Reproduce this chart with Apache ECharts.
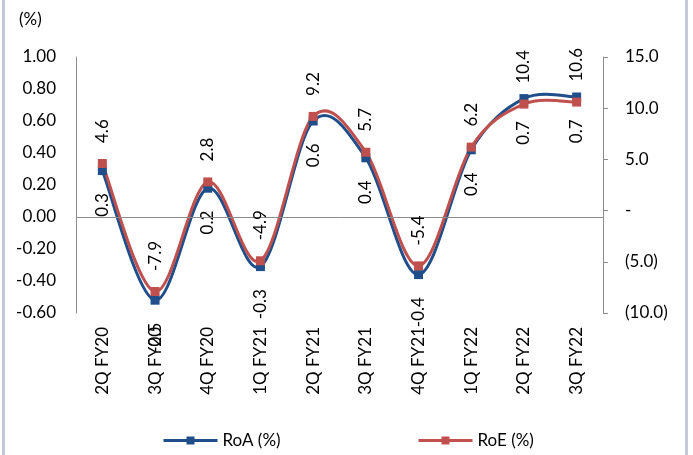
<!DOCTYPE html>
<html>
<head>
<meta charset="utf-8">
<script src="https://cdn.jsdelivr.net/npm/echarts@6/dist/echarts.min.js"></script>
<style>
  html, body { margin: 0; padding: 0; background: #ffffff; }
  #chart { width: 693px; height: 455px; }
</style>
</head>
<body>
<div id="chart"></div>
<script>
// Quarterly return ratios
const quarters = ['2Q FY20', '3Q FY20', '4Q FY20', '1Q FY21', '2Q FY21',
                  '3Q FY21', '4Q FY21', '1Q FY22', '2Q FY22', '3Q FY22'];
const roa = [0.29, -0.52, 0.18, -0.31, 0.60, 0.37, -0.36, 0.42, 0.74, 0.75];
const roaLabels = ['0.3', '-0.5', '0.2', '-0.3', '0.6', '0.4', '-0.4', '0.4', '0.7', '0.7'];
const roe = [4.6, -7.9, 2.8, -4.9, 9.2, 5.7, -5.4, 6.2, 10.4, 10.6];

const FONT = 'Lato, "Open Sans", sans-serif';
const FS = 17;
const BLUE = '#1f4e8a';
const RED = '#c0504d';
const AXIS = '#8c8c8c';

function rightAxisLabel(v) {
  if (Math.abs(v) < 1e-9) return '-';
  if (v < 0) return '(' + Math.abs(v).toFixed(1) + ')';
  return v.toFixed(1);
}

// Smoothed curve segment (cardinal spline in pixel space) between point i and i+1
function curveSegment(values, color) {
  return function (params, api) {
    const i = params.dataIndex;
    const n = values.length;
    if (i >= n - 1) return null;
    const pt = k => api.coord([Math.max(0, Math.min(n - 1, k)), values[Math.max(0, Math.min(n - 1, k))]]);
    const p0 = pt(i - 1), p1 = pt(i), p2 = pt(i + 1), p3 = pt(i + 2);
    const t = 1 / 6;
    return {
      type: 'bezierCurve',
      shape: {
        x1: p1[0], y1: p1[1], x2: p2[0], y2: p2[1],
        cpx1: p1[0] + (p2[0] - p0[0]) * t, cpy1: p1[1] + (p2[1] - p0[1]) * t,
        cpx2: p2[0] - (p3[0] - p1[0]) * t, cpy2: p2[1] - (p3[1] - p1[1]) * t
      },
      style: { stroke: color, lineWidth: 3, fill: null, lineCap: 'round' },
      silent: true
    };
  };
}

const chart = echarts.init(document.getElementById('chart'), null, { renderer: 'canvas' });

const legendText = { fontSize: FS, color: '#000', fontFamily: FONT };

chart.setOption({
  animation: false,
  backgroundColor: '#ffffff',
  textStyle: { fontFamily: FONT },
  graphic: [
    { type: 'rect', left: 2, top: 0, shape: { width: 3, height: 455 }, style: { fill: '#c3cad6' } },
    { type: 'rect', left: 685, top: 0, shape: { width: 3, height: 455 }, style: { fill: '#c3cad6' } },
    { type: 'text', left: 19, top: 11, style: { text: '(%)', fontSize: FS, fontFamily: FONT, fill: '#000' } }
  ],
  grid: { left: 76, right: 90, top: 57, bottom: 142 },
  legend: [
    {
      data: ['RoA (%)'], left: 157, top: 427, itemWidth: 54, itemHeight: 10, itemGap: 0,
      lineStyle: { opacity: 1, width: 3 },
      textStyle: legendText
    },
    {
      data: ['RoE (%)'], left: 412, top: 427, itemWidth: 54, itemHeight: 10, itemGap: 0,
      lineStyle: { opacity: 1, width: 3 },
      textStyle: legendText
    }
  ],
  xAxis: {
    type: 'category',
    data: quarters,
    boundaryGap: true,
    axisLine: { show: false },
    axisTick: { show: false },
    axisLabel: { rotate: 90, margin: 14, fontSize: FS, color: '#000', fontFamily: FONT }
  },
  yAxis: [
    {
      type: 'value', min: -0.6, max: 1.0, interval: 0.2,
      axisLine: { show: true, lineStyle: { color: AXIS, width: 1 } },
      axisTick: { show: false },
      splitLine: { show: false },
      axisLabel: {
        margin: 20, fontSize: FS, color: '#000', fontFamily: FONT,
        formatter: v => v.toFixed(2)
      }
    },
    {
      type: 'value', position: 'right', min: -10, max: 15, interval: 5,
      axisLine: { show: true, lineStyle: { color: AXIS, width: 1 } },
      axisTick: { show: true, length: 5, lineStyle: { color: AXIS } },
      splitLine: { show: false },
      axisLabel: {
        margin: 22, fontSize: FS, color: '#000', fontFamily: FONT,
        formatter: rightAxisLabel
      }
    }
  ],
  series: [
    {
      name: 'RoA curve',
      type: 'custom',
      yAxisIndex: 0,
      z: 2,
      data: roa.map((v, i) => [i, v]),
      renderItem: curveSegment(roa, BLUE),
      markLine: {
        silent: true, symbol: 'none',
        label: { show: false },
        lineStyle: { color: AXIS, width: 1, type: 'solid' },
        data: [{ yAxis: 0 }]
      }
    },
    {
      name: 'RoE curve',
      type: 'custom',
      yAxisIndex: 1,
      z: 3,
      data: roe.map((v, i) => [i, v]),
      renderItem: curveSegment(roe, RED)
    },
    {
      name: 'RoA (%)',
      type: 'line',
      yAxisIndex: 0,
      z: 4,
      data: roa,
      symbol: 'rect',
      symbolSize: 9,
      itemStyle: { color: BLUE },
      lineStyle: { color: BLUE, width: 3, opacity: 0 },
      label: {
        show: true, position: 'bottom', distance: 18, rotate: 90,
        align: 'right', verticalAlign: 'middle',
        fontSize: FS, color: '#000', fontFamily: FONT,
        formatter: p => roaLabels[p.dataIndex]
      }
    },
    {
      name: 'RoE (%)',
      type: 'line',
      yAxisIndex: 1,
      z: 5,
      data: roe,
      symbol: 'rect',
      symbolSize: 9,
      itemStyle: { color: RED },
      lineStyle: { color: RED, width: 3, opacity: 0 },
      label: {
        show: true, position: 'top', distance: 16, rotate: 90,
        align: 'left', verticalAlign: 'middle',
        fontSize: FS, color: '#000', fontFamily: FONT,
        formatter: p => p.value.toFixed(1)
      }
    }
  ]
});
</script>
</body>
</html>
